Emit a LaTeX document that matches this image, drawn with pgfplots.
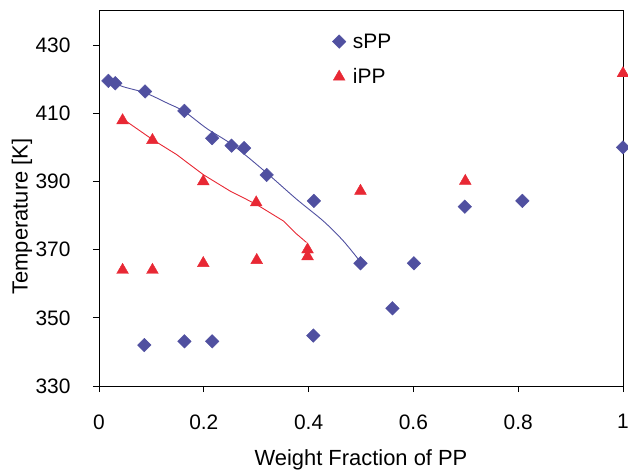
\documentclass[border=0pt]{standalone}
\usepackage{pgfplots}
\pgfplotsset{compat=1.18}
\usepackage{fontspec}
\setmainfont{Liberation Sans}
\definecolor{sblue}{RGB}{80,80,160}
\definecolor{ired}{RGB}{232,40,52}
\begin{document}
\begin{tikzpicture}
\begin{axis}[
  scale only axis,
  width=524bp, height=375bp,
  xmin=0, xmax=1, ymin=330, ymax=440,
  xtick={0,0.2,0.4,0.6,0.8,1},
  ytick={330,350,370,390,410,430},
  xticklabels={0,0.2,0.4,0.6,0.8,1},
  tick align=outside,
  xtick pos=bottom, ytick pos=left,
  major tick length=6bp,
  tick style={black, line width=0.8pt},
  axis line style={black, line width=1pt},
  /pgf/number format/assume math mode=true,
  ticklabel style={font=\fontsize{21}{24}\selectfont},
  xticklabel style={yshift=-19bp},
  yticklabel style={xshift=-19bp},
  xlabel={Weight Fraction of PP},
  ylabel={Temperature [K]},
  label style={font=\fontsize{22}{25}\selectfont},
  xlabel style={at={(axis description cs:0.5,-0.2133)}, anchor=base},
  ylabel style={at={(axis description cs:-0.136,0.452)}, anchor=base, rotate=0},
  legend style={draw=none, fill=none, at={(axis cs:0.445,434)}, anchor=north west,
    font=\fontsize{21}{24}\selectfont, row sep=15bp, inner sep=0pt},
  legend cell align=left,
]
\addplot[sblue, line width=0.9pt, smooth, forget plot] coordinates {
(0.018,419.6)(0.046,417.8)(0.088,416.0)(0.13,413.0)(0.163,410.5)(0.206,405.5)(0.256,400.6)(0.32,392.5)(0.377,384.8)(0.428,378.4)(0.466,372.6)(0.5,366.2)};
\addplot[ired, line width=0.9pt, forget plot] coordinates {
(0.045,408.4)(0.102,402.3)(0.148,397.9)(0.199,392.0)(0.25,387.2)(0.30,383.3)(0.352,378.4)(0.377,374.6)(0.396,372.1)};
\addplot[only marks, mark=square*, mark size=4.8bp, mark options={rotate=45, fill=sblue, draw=sblue}] coordinates {
(0.018,419.5)(0.031,418.8)(0.088,416.4)(0.163,410.7)(0.216,402.7)(0.253,400.5)(0.277,399.8)(0.320,391.9)(0.410,384.3)(0.499,366.0)(0.601,366.0)(0.560,352.8)(0.409,344.8)(0.0865,342.0)(0.163,343.1)(0.216,343.1)(0.698,382.6)(0.808,384.3)(1,400)};
\addlegendentry{\hspace{5bp}sPP}
\addplot[only marks, mark=triangle*, mark size=6.8bp, mark options={fill=ired, draw=ired}] coordinates {
(0.045,407.9)(0.102,402.1)(0.199,390.0)(0.300,383.8)(0.499,387.2)(0.699,390.1)(1,421.7)(0.045,364.0)(0.102,364.0)(0.199,366.0)(0.301,366.9)(0.398,370.0)(0.398,368.0)};
\addlegendentry{\hspace{5bp}iPP}
\end{axis}
\pgfresetboundingbox
\useasboundingbox (-99bp,-86bp) rectangle (529bp,386bp);
\end{tikzpicture}
\end{document}
